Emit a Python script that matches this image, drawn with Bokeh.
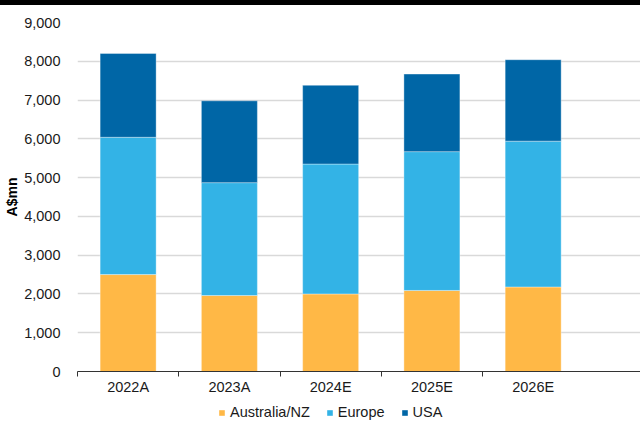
from bokeh.plotting import figure
from bokeh.models import (ColumnDataSource, Range1d, FixedTicker, NumeralTickFormatter,
                          Legend, Div)
from bokeh.layouts import column
from bokeh.embed import file_html
from bokeh.resources import INLINE

# ---- data ----
years = ["2022A", "2023A", "2024E", "2025E", "2026E"]
series_names = ["Australia/NZ", "Europe", "USA"]
aus_nz = [2500, 1960, 2000, 2090, 2180]
europe = [3540, 2910, 3350, 3580, 3760]
usa = [2160, 2110, 2030, 2000, 2100]
y_ticks = [0, 1000, 2000, 3000, 4000, 5000, 6000, 7000, 8000, 9000]
title_text = "Energy revenue (A$, m)"
y_label = "A$mn"

colors = ["#FFB846", "#33B3E6", "#0066A6"]
FONT = "Liberation Sans"
FS = "14.5px"

# ---- top band (title cut off at the top edge) ----
band = Div(
    text=('<div style="position:relative;width:640px;height:5px;overflow:hidden;'
          'background:#000;margin:0;padding:0">'
          '<span style="position:absolute;left:25px;top:-11px;color:#fff;'
          'font-family:\'Liberation Sans\';font-weight:bold;font-size:15px;'
          'line-height:15px;white-space:nowrap">' + title_text + '</span></div>'),
    width=640, height=5, margin=0,
    styles={"background-color": "black", "overflow": "hidden"})

# ---- main chart ----
idx = list(range(len(years)))
src = ColumnDataSource(dict(
    x=[i + 0.5 for i in idx],
    aus=aus_nz, eur=europe, usa=usa,
))

p = figure(width=640, height=392, output_backend="svg", toolbar_location=None,
           x_range=Range1d(0, 5.56), y_range=Range1d(0, 9000),
           min_border_left=77, min_border_right=0, min_border_top=17,
           min_border_bottom=26, outline_line_color=None)

r = p.vbar_stack(["aus", "eur", "usa"], x="x", width=0.553, source=src,
                 color=colors, line_color="white", line_alpha=0.35, line_width=1)

xa = p.xaxis[0]
xa.ticker = FixedTicker(ticks=[i + 0.5 for i in idx], minor_ticks=idx)
xa.major_label_overrides = {i + 0.5: y for i, y in zip(idx, years)}
xa.major_tick_out = 0
xa.major_tick_in = 0
xa.minor_tick_out = 5
xa.minor_tick_in = 0
xa.minor_tick_line_color = "#333333"
xa.axis_line_color = "#333333"
xa.major_label_standoff = 2
xa.major_label_text_font = FONT
xa.major_label_text_font_size = FS
xa.major_label_text_color = "#1a1a1a"

ya = p.yaxis[0]
ya.ticker = FixedTicker(ticks=y_ticks)
ya.formatter = NumeralTickFormatter(format="0,0")
ya.axis_line_color = None
ya.major_tick_line_color = None
ya.minor_tick_line_color = None
ya.major_label_standoff = 11
ya.major_label_text_font = FONT
ya.major_label_text_font_size = FS
ya.major_label_text_color = "#1a1a1a"
ya.axis_label = y_label
ya.axis_label_text_font = FONT
ya.axis_label_text_font_size = "14px"
ya.axis_label_text_font_style = "bold"
ya.axis_label_text_color = "#000000"
ya.axis_label_standoff = 1

p.xgrid.grid_line_color = None
p.ygrid.grid_line_color = "#D9D9D9"
p.ygrid.grid_line_width = 1.5

# ---- legend strip (frame is aligned with the main chart's frame) ----
lf = figure(width=640, height=24, x_range=Range1d(0, 1), y_range=Range1d(0, 1),
            min_border=0, x_axis_location=None, y_axis_location=None,
            toolbar_location=None, output_backend="svg", outline_line_color=None)
for g in lf.grid:
    g.visible = False
swatches = lf.vbar_stack(["aus", "eur", "usa"], x="x", width=0.553, source=src,
                         color=colors, line_color=None)
for s in swatches:
    s.visible = False
legend = Legend(items=[(n, [rr]) for n, rr in zip(series_names, swatches)],
                orientation="horizontal", location=(141, 1),
                border_line_color=None, background_fill_alpha=0,
                label_text_font=FONT, label_text_font_size=FS,
                label_text_color="#1a1a1a",
                glyph_width=7, glyph_height=7, label_standoff=5,
                spacing=16, padding=2, margin=0)
lf.add_layout(legend)

layout = column(band, p, lf, spacing=0)
open("out.html", "w").write(file_html(layout, INLINE))
